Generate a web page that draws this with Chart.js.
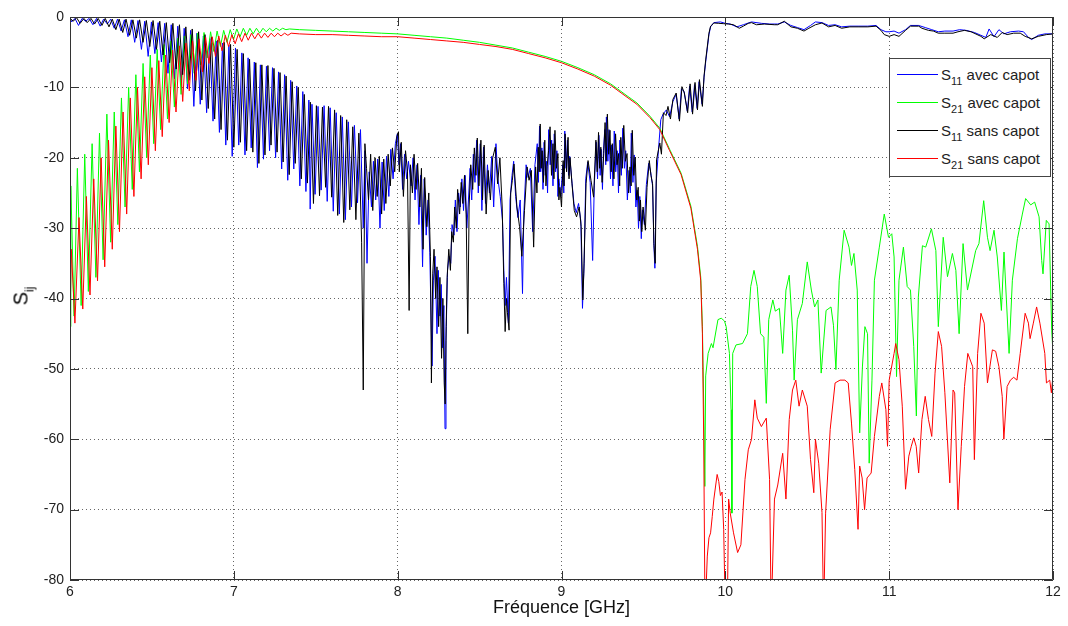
<!DOCTYPE html>
<html>
<head>
<meta charset="utf-8">
<script src="https://cdn.jsdelivr.net/npm/chart.js@4.4.0/dist/chart.umd.min.js"></script>
<style>
  body { margin: 0; background: #fff; }
  #wrap { position: relative; width: 1068px; height: 626px; font-family: "Liberation Sans", Arial, sans-serif; color: #222; }
  #ylabel { position: absolute; left: 21px; top: 296px; transform: translate(-50%, -50%) rotate(-90deg); font-size: 20px; color: #000; white-space: nowrap; }
  #ylabel sub { font-size: 12px; vertical-align: -6px; line-height: 0; }
  #legend { position: absolute; left: 889px; top: 58px; width: 160px; height: 117px; border: 1px solid #444; background: #fff; }
  .row { position: absolute; left: 0; height: 28px; display: flex; align-items: center; font-size: 15px; white-space: nowrap; }
  .row sub { font-size: 11px; vertical-align: -5px; line-height: 0; }
  .swatch { width: 41px; height: 1px; margin: 0 3px 0 7px; }
</style>
</head>
<body>
<div id="wrap">
  <canvas id="chart" width="1068" height="626"></canvas>
  <div id="ylabel">S<sub>ij</sub></div>
  <div id="legend"></div>
</div>
<script>
// axes
const freqTicks = [6, 7, 8, 9, 10, 11, 12];
const dbTicks = [0, -10, -20, -30, -40, -50, -60, -70, -80];

// series : [fréquence GHz, dB]
const s11Avec = [
  [6.000,-0.1],[6.010,-0.7],[6.030,-0.2],[6.052,-1.2],[6.074,-0.2],[6.095,-0.6],[6.117,-0.2],[6.140,-1.1],
  [6.162,-0.2],[6.184,-1.3],[6.205,-0.3],[6.228,-1.0],[6.248,-0.3],[6.270,-1.6],[6.290,-0.3],[6.312,-2.0],
  [6.332,-0.4],[6.354,-2.8],[6.374,-0.4],[6.395,-3.6],[6.415,-0.5],[6.436,-4.6],[6.456,-0.6],[6.477,-5.6],
  [6.497,-0.7],[6.518,-5.2],[6.538,-0.8],[6.558,-6.4],[6.578,-0.9],[6.598,-8.0],[6.618,-1.1],[6.638,-8.8],
  [6.658,-1.3],[6.678,-9.6],[6.697,-1.6],[6.717,-10.2],[6.736,-1.9],[6.756,-12.7],[6.775,-2.3],[6.795,-12.4],
  [6.814,-2.7],[6.834,-13.6],[6.853,-3.1],[6.873,-14.8],[6.892,-3.4],[6.912,-16.4],[6.931,-3.7],[6.951,-18.2],
  [6.970,-4.0],[6.990,-19.8],[7.010,-4.4],[7.030,-18.2],[7.049,-5.1],[7.068,-19.6],[7.087,-5.8],[7.106,-18.6],
  [7.125,-6.4],[7.144,-21.4],[7.162,-6.8],[7.181,-20.2],[7.199,-7.0],[7.218,-19.0],[7.236,-7.2],[7.255,-20.0],
  [7.273,-7.8],[7.292,-21.6],[7.310,-8.2],[7.329,-23.2],[7.347,-9.0],[7.366,-21.6],[7.384,-9.8],[7.403,-24.0],
  [7.421,-10.6],[7.440,-24.8],[7.458,-11.8],[7.466,-27.3],[7.477,-12.4],[7.496,-25.2],[7.514,-12.7],[7.533,-24.6],
  [7.551,-12.6],[7.570,-26.2],[7.588,-12.9],[7.607,-27.6],[7.625,-13.6],[7.644,-28.0],[7.662,-14.2],[7.681,-28.8],
  [7.699,-14.9],[7.718,-27.0],[7.736,-15.4],[7.755,-26.4],[7.773,-16.0],[7.790,-30.0],[7.800,-19.0],[7.813,-35.0],
  [7.826,-22.0],[7.840,-27.0],[7.852,-20.5],[7.866,-26.0],[7.878,-20.2],[7.892,-30.0],[7.905,-20.6],[7.918,-27.5],
  [7.932,-19.8],[7.946,-25.5],[7.958,-18.8],[7.972,-23.0],[7.986,-18.0],[7.998,-16.6],[8.008,-21.0],[8.018,-18.0],
  [8.030,-24.5],[8.042,-19.5],[8.055,-23.0],[8.066,-20.5],[8.082,-24.0],[8.094,-20.0],[8.106,-26.0],[8.118,-21.0],
  [8.130,-29.5],[8.140,-22.5],[8.152,-35.5],[8.162,-23.0],[8.174,-31.0],[8.186,-26.0],[8.196,-33.5],[8.210,-49.6],
  [8.218,-37.5],[8.228,-34.0],[8.240,-45.0],[8.248,-36.0],[8.258,-42.5],[8.266,-38.0],[8.274,-47.0],[8.282,-41.0],
  [8.289,-58.5],[8.295,-46.0],[8.304,-36.0],[8.314,-34.0],[8.324,-35.0],[8.332,-29.5],[8.344,-31.0],[8.352,-26.0],
  [8.362,-30.5],[8.372,-25.0],[8.382,-27.0],[8.392,-23.0],[8.402,-27.5],[8.412,-22.5],[8.422,-30.0],[8.432,-26.0],
  [8.442,-21.5],[8.452,-26.0],[8.462,-19.5],[8.472,-23.5],[8.482,-17.5],[8.492,-25.0],[8.504,-18.0],[8.514,-27.5],
  [8.524,-18.5],[8.536,-26.5],[8.548,-21.0],[8.560,-25.0],[8.574,-19.8],[8.586,-27.0],[8.600,-18.0],[8.612,-23.0],
  [8.626,-25.5],[8.640,-29.0],[8.648,-36.0],[8.656,-41.0],[8.664,-37.0],[8.676,-43.5],[8.686,-26.0],[8.698,-22.5],
  [8.708,-20.5],[8.720,-25.5],[8.734,-28.5],[8.748,-26.0],[8.762,-39.3],[8.770,-28.0],[8.784,-21.0],[8.796,-22.8],
  [8.810,-21.5],[8.824,-30.5],[8.838,-21.0],[8.852,-18.0],[8.859,-23.5],[8.866,-15.5],[8.873,-22.0],[8.880,-18.6],
  [8.887,-24.5],[8.894,-17.8],[8.901,-22.5],[8.908,-20.5],[8.915,-25.0],[8.922,-16.0],[8.931,-21.0],[8.940,-17.5],
  [8.948,-24.0],[8.956,-16.6],[8.964,-22.0],[8.972,-19.0],[8.978,-25.5],[8.984,-23.0],[8.996,-25.5],[9.008,-21.0],
  [9.014,-25.0],[9.020,-16.2],[9.028,-21.5],[9.036,-17.5],[9.043,-22.5],[9.050,-19.8],[9.062,-23.0],[9.076,-26.5],
  [9.090,-27.8],[9.104,-26.5],[9.118,-29.0],[9.128,-41.4],[9.138,-35.0],[9.148,-23.0],[9.160,-20.6],[9.175,-23.5],
  [9.190,-34.6],[9.200,-24.0],[9.212,-17.8],[9.220,-23.0],[9.228,-16.8],[9.236,-22.5],[9.242,-18.8],[9.250,-24.5],
  [9.256,-19.0],[9.264,-16.0],[9.270,-21.0],[9.274,-14.2],[9.283,-20.5],[9.290,-16.0],[9.299,-23.0],[9.306,-18.2],
  [9.314,-24.0],[9.322,-16.2],[9.331,-22.0],[9.340,-19.0],[9.348,-25.0],[9.356,-17.5],[9.365,-22.5],[9.374,-15.8],
  [9.384,-21.5],[9.392,-19.0],[9.402,-26.0],[9.412,-21.8],[9.420,-25.0],[9.426,-16.5],[9.436,-23.5],[9.444,-19.6],
  [9.454,-27.0],[9.462,-24.6],[9.470,-30.0],[9.478,-25.5],[9.487,-31.5],[9.494,-27.4],[9.506,-29.5],[9.518,-23.8],
  [9.532,-20.8],[9.544,-22.0],[9.556,-24.0],[9.564,-32.5],[9.570,-35.7],[9.578,-23.6],[9.592,-18.8],[9.606,-14.6],
  [9.620,-13.8],[9.640,-13.2],[9.660,-14.2],[9.680,-12.0],[9.700,-11.0],[9.718,-14.5],[9.732,-10.2],[9.748,-10.6],
  [9.768,-13.4],[9.782,-9.8],[9.798,-13.5],[9.812,-9.6],[9.828,-13.0],[9.840,-9.2],[9.858,-12.4],[9.870,-8.6],
  [9.880,-6.4],[9.900,-2.5],[9.910,-1.4],[9.930,-0.8],[9.970,-0.7],[10.000,-0.9],[10.030,-1.0],[10.070,-1.4],
  [10.110,-1.1],[10.160,-0.7],[10.220,-0.9],[10.270,-1.0],[10.320,-1.0],[10.360,-0.7],[10.400,-1.2],[10.440,-1.5],
  [10.480,-1.8],[10.520,-1.2],[10.550,-0.7],[10.590,-0.8],[10.630,-1.2],[10.670,-1.1],[10.710,-1.4],[10.760,-1.3],
  [10.810,-1.3],[10.870,-1.3],[10.920,-1.2],[10.950,-1.8],[10.980,-2.1],[11.000,-2.1],[11.030,-2.0],[11.060,-2.3],
  [11.100,-1.8],[11.130,-1.2],[11.180,-1.2],[11.220,-1.5],[11.260,-1.8],[11.300,-2.1],[11.340,-2.0],[11.390,-2.0],
  [11.430,-1.8],[11.470,-1.9],[11.520,-2.2],[11.560,-2.6],[11.590,-2.9],[11.610,-1.7],[11.640,-2.8],[11.670,-1.8],
  [11.700,-2.4],[11.740,-2.1],[11.790,-2.0],[11.820,-2.1],[11.850,-2.9],[11.870,-3.2],[11.910,-2.6],[11.950,-2.4],
  [12.000,-2.4]
];

const s21Avec = [
  [6.000,-44.0],[6.005,-24.0],[6.025,-42.5],[6.045,-21.5],[6.068,-41.0],[6.090,-19.5],[6.112,-39.0],[6.135,-18.0],
  [6.158,-37.0],[6.180,-16.5],[6.202,-34.5],[6.225,-13.8],[6.248,-32.0],[6.270,-13.5],[6.292,-29.5],[6.314,-11.5],
  [6.336,-27.0],[6.358,-10.0],[6.380,-24.5],[6.402,-8.2],[6.424,-22.0],[6.446,-6.6],[6.468,-20.0],[6.490,-5.4],
  [6.511,-18.0],[6.532,-4.6],[6.553,-16.0],[6.574,-3.9],[6.595,-14.5],[6.616,-3.4],[6.637,-12.8],[6.658,-3.0],
  [6.678,-11.0],[6.698,-2.7],[6.718,-9.5],[6.738,-2.5],[6.758,-8.0],[6.778,-2.3],[6.798,-6.8],[6.818,-2.2],
  [6.838,-5.8],[6.858,-2.1],[6.878,-4.9],[6.898,-2.0],[6.918,-4.2],[6.938,-1.9],[6.958,-3.6],[6.978,-1.8],
  [6.998,-3.2],[7.018,-1.7],[7.038,-2.8],[7.058,-1.6],[7.078,-2.6],[7.098,-1.6],[7.118,-2.4],[7.138,-1.6],
  [7.158,-2.3],[7.178,-1.6],[7.198,-2.1],[7.218,-1.6],[7.238,-2.0],[7.258,-1.6],[7.278,-1.9],[7.298,-1.6],
  [7.318,-1.8],[7.340,-1.7],[7.400,-1.8],[7.500,-1.9],[7.600,-2.0],[7.700,-2.1],[7.800,-2.2],[7.900,-2.3],
  [8.000,-2.4],[8.100,-2.6],[8.200,-2.8],[8.300,-3.0],[8.400,-3.3],[8.500,-3.6],[8.600,-4.0],[8.700,-4.4],
  [8.800,-5.0],[8.900,-5.6],[9.000,-6.3],[9.100,-7.2],[9.200,-8.2],[9.300,-9.5],[9.400,-11.2],[9.460,-12.2],
  [9.540,-14.1],[9.600,-15.8],[9.660,-18.8],[9.730,-22.2],[9.790,-26.9],[9.830,-32.6],[9.850,-37.0],[9.860,-44.0],
  [9.868,-55.0],[9.875,-66.7],[9.880,-51.0],[9.895,-47.8],[9.915,-46.4],[9.925,-47.0],[9.955,-43.0],[9.975,-42.8],
  [9.995,-43.2],[10.005,-44.0],[10.025,-47.8],[10.035,-55.8],[10.040,-70.5],[10.045,-47.8],[10.065,-46.6],[10.105,-46.4],
  [10.135,-45.0],[10.155,-38.3],[10.175,-36.0],[10.195,-38.3],[10.215,-45.0],[10.235,-45.5],[10.250,-54.9],[10.265,-43.0],
  [10.290,-40.2],[10.305,-41.8],[10.330,-41.4],[10.350,-47.8],[10.370,-38.8],[10.390,-36.7],[10.410,-44.5],[10.420,-51.6],
  [10.440,-43.0],[10.470,-40.7],[10.500,-34.8],[10.525,-38.8],[10.545,-41.2],[10.565,-40.2],[10.585,-50.6],[10.615,-41.7],
  [10.645,-41.2],[10.660,-43.8],[10.675,-50.1],[10.695,-37.4],[10.725,-30.3],[10.755,-32.7],[10.770,-35.3],[10.785,-33.6],
  [10.805,-38.8],[10.820,-59.1],[10.837,-49.6],[10.852,-44.0],[10.868,-45.0],[10.878,-63.4],[10.895,-51.6],[10.910,-37.4],
  [10.940,-32.7],[10.970,-28.0],[10.996,-31.3],[11.016,-30.8],[11.030,-34.1],[11.045,-51.1],[11.060,-37.4],[11.087,-32.7],
  [11.110,-38.3],[11.130,-38.8],[11.150,-46.8],[11.166,-56.7],[11.178,-39.8],[11.203,-32.5],[11.223,-32.7],[11.258,-30.1],
  [11.285,-33.2],[11.300,-44.0],[11.330,-31.3],[11.356,-36.9],[11.386,-33.6],[11.407,-36.0],[11.427,-45.0],[11.451,-32.2],
  [11.478,-38.8],[11.528,-33.2],[11.548,-32.2],[11.577,-26.1],[11.600,-31.3],[11.616,-33.2],[11.640,-30.3],[11.660,-34.1],
  [11.685,-41.7],[11.701,-33.4],[11.732,-47.8],[11.752,-37.4],[11.783,-31.5],[11.813,-28.0],[11.833,-25.8],[11.864,-26.7],
  [11.888,-26.3],[11.915,-28.4],[11.931,-34.6],[11.939,-36.5],[11.959,-28.9],[11.976,-29.4],[11.992,-44.5],[12.000,-47.8]
];

const s11Sans = [
  [6.000,-0.2],[6.020,-0.6],[6.040,-0.1],[6.062,-0.9],[6.085,-0.2],[6.105,-0.8],[6.128,-0.2],[6.150,-1.0],
  [6.172,-0.2],[6.195,-1.2],[6.215,-0.2],[6.238,-1.4],[6.258,-0.3],[6.280,-1.8],[6.300,-0.3],[6.322,-2.2],
  [6.342,-0.3],[6.364,-2.6],[6.384,-0.4],[6.405,-3.0],[6.425,-0.4],[6.446,-3.6],[6.466,-0.5],[6.487,-4.2],
  [6.507,-0.5],[6.528,-4.6],[6.548,-0.6],[6.568,-5.4],[6.588,-0.8],[6.608,-6.5],[6.628,-0.9],[6.648,-7.4],
  [6.668,-1.1],[6.688,-8.2],[6.707,-1.4],[6.727,-9.0],[6.746,-1.7],[6.766,-10.5],[6.785,-2.1],[6.805,-11.8],
  [6.824,-2.5],[6.844,-13.0],[6.863,-2.9],[6.883,-14.5],[6.902,-3.3],[6.922,-16.0],[6.941,-3.6],[6.961,-17.5],
  [6.980,-3.9],[7.000,-18.5],[7.020,-4.6],[7.040,-17.8],[7.058,-5.2],[7.078,-19.0],[7.096,-6.0],[7.116,-19.2],
  [7.134,-6.5],[7.153,-20.8],[7.171,-6.8],[7.190,-19.6],[7.208,-6.9],[7.227,-18.2],[7.245,-7.3],[7.264,-19.2],
  [7.282,-7.9],[7.301,-20.6],[7.319,-8.4],[7.338,-22.4],[7.356,-9.2],[7.375,-20.8],[7.393,-10.0],[7.412,-23.0],
  [7.430,-11.0],[7.449,-23.6],[7.467,-12.1],[7.486,-26.5],[7.504,-12.6],[7.523,-25.4],[7.541,-12.8],[7.560,-24.2],
  [7.578,-12.7],[7.597,-25.6],[7.615,-13.2],[7.634,-28.2],[7.652,-14.0],[7.671,-29.2],[7.689,-14.6],[7.708,-27.4],
  [7.726,-15.6],[7.745,-28.8],[7.763,-16.5],[7.780,-32.0],[7.790,-53.0],[7.800,-18.0],[7.810,-21.5],[7.822,-26.0],
  [7.835,-19.5],[7.848,-27.5],[7.862,-20.0],[7.875,-25.5],[7.888,-19.8],[7.902,-28.0],[7.915,-20.2],[7.928,-26.5],
  [7.942,-19.5],[7.955,-24.0],[7.968,-18.6],[7.982,-22.0],[7.995,-17.0],[8.005,-16.3],[8.010,-22.0],[8.022,-17.8],
  [8.035,-25.5],[8.048,-19.0],[8.060,-22.0],[8.070,-41.7],[8.078,-21.0],[8.090,-25.0],[8.100,-19.5],[8.112,-24.5],
  [8.122,-20.8],[8.135,-27.0],[8.145,-21.5],[8.155,-33.0],[8.165,-22.8],[8.178,-29.8],[8.190,-25.0],[8.200,-34.0],
  [8.206,-52.0],[8.214,-36.5],[8.222,-33.0],[8.232,-40.0],[8.240,-35.5],[8.250,-44.0],[8.258,-37.0],[8.268,-48.5],
  [8.276,-40.0],[8.284,-52.0],[8.290,-55.0],[8.296,-44.0],[8.302,-37.0],[8.312,-33.0],[8.322,-36.0],[8.330,-30.5],
  [8.340,-32.0],[8.348,-27.0],[8.358,-30.0],[8.366,-24.5],[8.378,-28.0],[8.388,-23.5],[8.398,-26.5],[8.408,-22.5],
  [8.418,-28.0],[8.428,-45.0],[8.436,-27.0],[8.446,-21.0],[8.458,-24.5],[8.468,-18.6],[8.478,-22.5],[8.486,-17.2],
  [8.496,-24.0],[8.508,-17.5],[8.518,-26.0],[8.528,-18.2],[8.540,-28.0],[8.552,-21.8],[8.566,-26.0],[8.580,-20.0],
  [8.596,-18.5],[8.610,-23.7],[8.624,-20.0],[8.638,-27.0],[8.648,-37.9],[8.656,-44.7],[8.664,-40.0],[8.670,-42.0],
  [8.680,-44.5],[8.690,-25.0],[8.700,-23.2],[8.710,-20.9],[8.728,-27.0],[8.744,-29.8],[8.758,-34.0],[8.774,-27.5],
  [8.790,-21.3],[8.802,-23.2],[8.816,-21.8],[8.830,-32.7],[8.842,-21.3],[8.850,-25.0],[8.858,-18.5],[8.864,-22.0],
  [8.870,-15.2],[8.876,-21.5],[8.882,-19.0],[8.890,-23.5],[8.898,-17.5],[8.905,-24.0],[8.912,-21.3],[8.921,-19.0],
  [8.930,-15.6],[8.939,-22.5],[8.948,-18.0],[8.954,-23.0],[8.960,-16.1],[8.969,-21.5],[8.978,-19.4],[8.984,-26.0],
  [8.990,-24.2],[9.000,-27.0],[9.010,-20.4],[9.016,-24.0],[9.022,-16.6],[9.031,-22.0],[9.040,-17.1],[9.046,-23.0],
  [9.052,-20.0],[9.064,-23.7],[9.078,-27.5],[9.092,-28.4],[9.108,-27.0],[9.120,-29.8],[9.130,-40.2],[9.136,-36.5],
  [9.150,-23.7],[9.162,-20.4],[9.180,-23.2],[9.196,-25.6],[9.210,-17.5],[9.218,-22.0],[9.226,-16.4],[9.233,-21.5],
  [9.240,-18.5],[9.248,-23.5],[9.258,-19.4],[9.266,-15.0],[9.273,-20.5],[9.280,-13.8],[9.288,-19.5],[9.296,-16.1],
  [9.303,-22.0],[9.310,-18.0],[9.320,-23.0],[9.330,-16.6],[9.339,-21.0],[9.348,-19.4],[9.355,-24.0],[9.362,-17.1],
  [9.371,-21.5],[9.380,-15.4],[9.390,-20.5],[9.400,-19.4],[9.409,-25.0],[9.418,-21.3],[9.425,-24.0],[9.432,-16.1],
  [9.441,-22.5],[9.450,-19.9],[9.459,-26.0],[9.468,-24.2],[9.475,-29.0],[9.482,-26.0],[9.490,-30.5],[9.498,-27.0],
  [9.512,-30.3],[9.522,-24.2],[9.536,-20.4],[9.546,-22.5],[9.556,-23.7],[9.564,-32.2],[9.572,-35.0],[9.580,-20.3],
  [9.600,-17.9],[9.610,-19.5],[9.622,-13.6],[9.638,-14.0],[9.650,-12.7],[9.665,-14.5],[9.680,-11.7],[9.700,-10.8],
  [9.720,-14.8],[9.735,-9.9],[9.750,-10.8],[9.770,-13.6],[9.785,-9.5],[9.800,-13.8],[9.815,-9.3],[9.830,-13.2],
  [9.842,-8.9],[9.860,-12.7],[9.870,-8.4],[9.880,-6.1],[9.900,-2.3],[9.910,-1.3],[9.930,-0.85],[9.960,-0.9],
  [9.990,-0.95],[10.020,-1.0],[10.050,-1.1],[10.085,-1.6],[10.110,-1.3],[10.140,-0.9],[10.160,-0.8],[10.190,-1.1],
  [10.240,-1.0],[10.300,-1.1],[10.320,-1.1],[10.360,-0.6],[10.400,-1.4],[10.440,-1.6],[10.480,-2.0],[10.510,-1.6],
  [10.550,-1.1],[10.590,-0.85],[10.630,-1.4],[10.670,-1.2],[10.710,-1.6],[10.760,-1.4],[10.810,-1.4],[10.870,-1.4],
  [10.920,-1.3],[10.950,-1.9],[10.970,-2.5],[11.000,-2.75],[11.030,-2.5],[11.060,-2.75],[11.100,-1.9],[11.130,-1.3],
  [11.180,-1.3],[11.200,-1.6],[11.240,-1.9],[11.270,-2.0],[11.300,-2.3],[11.340,-2.3],[11.390,-2.3],[11.420,-2.1],
  [11.460,-1.9],[11.500,-2.1],[11.560,-2.75],[11.580,-3.1],[11.620,-2.5],[11.660,-2.9],[11.690,-2.2],[11.720,-2.5],
  [11.760,-2.3],[11.800,-2.3],[11.830,-2.75],[11.870,-3.1],[11.910,-2.75],[11.960,-2.5],[12.000,-2.4]
];

const s21Sans = [
  [6.000,-43.0],[6.008,-33.0],[6.030,-43.5],[6.055,-28.5],[6.078,-41.5],[6.100,-25.5],[6.122,-39.5],[6.145,-23.0],
  [6.168,-37.5],[6.190,-20.0],[6.212,-35.5],[6.235,-17.5],[6.258,-33.0],[6.280,-15.5],[6.302,-30.5],[6.324,-13.5],
  [6.346,-28.0],[6.368,-11.5],[6.390,-25.5],[6.412,-10.0],[6.434,-23.0],[6.456,-8.5],[6.478,-21.0],[6.500,-7.2],
  [6.521,-19.0],[6.542,-6.2],[6.563,-17.0],[6.584,-5.4],[6.605,-15.0],[6.626,-4.7],[6.647,-13.5],[6.668,-4.1],
  [6.688,-12.0],[6.708,-3.7],[6.728,-10.5],[6.748,-3.4],[6.768,-9.0],[6.788,-3.1],[6.808,-7.8],[6.828,-2.9],
  [6.848,-6.6],[6.868,-2.8],[6.888,-5.6],[6.908,-2.7],[6.928,-4.8],[6.948,-2.6],[6.968,-4.2],[6.988,-2.5],
  [7.008,-3.8],[7.028,-2.4],[7.048,-3.5],[7.068,-2.3],[7.088,-3.3],[7.108,-2.3],[7.128,-3.1],[7.148,-2.3],
  [7.168,-3.0],[7.188,-2.3],[7.208,-2.9],[7.228,-2.3],[7.248,-2.8],[7.268,-2.3],[7.288,-2.7],[7.310,-2.3],
  [7.330,-2.6],[7.350,-2.3],[7.400,-2.4],[7.500,-2.5],[7.600,-2.5],[7.700,-2.6],[7.800,-2.7],[7.900,-2.8],
  [8.000,-2.8],[8.100,-3.0],[8.200,-3.2],[8.300,-3.4],[8.400,-3.6],[8.500,-3.9],[8.600,-4.2],[8.700,-4.6],
  [8.800,-5.2],[8.900,-5.8],[9.000,-6.5],[9.100,-7.4],[9.200,-8.4],[9.300,-9.7],[9.400,-11.4],[9.460,-12.4],
  [9.540,-14.3],[9.600,-16.0],[9.660,-19.0],[9.730,-22.4],[9.790,-27.2],[9.830,-33.0],[9.850,-37.5],[9.860,-45.0],
  [9.868,-60.0],[9.876,-85.0],[9.880,-85.0],[9.890,-76.6],[9.900,-74.0],[9.910,-73.3],[9.920,-71.0],[9.930,-68.5],
  [9.950,-65.0],[9.960,-66.0],[9.970,-68.0],[9.980,-67.5],[9.990,-72.8],[10.000,-85.0],[10.012,-85.0],[10.020,-68.5],
  [10.030,-70.5],[10.050,-73.3],[10.075,-76.1],[10.095,-75.0],[10.120,-65.7],[10.140,-61.5],[10.160,-60.0],[10.180,-54.4],
  [10.195,-57.0],[10.220,-58.2],[10.250,-57.0],[10.270,-65.7],[10.280,-85.0],[10.300,-68.5],[10.320,-66.5],[10.350,-62.0],
  [10.370,-68.5],[10.390,-57.2],[10.410,-53.0],[10.430,-51.6],[10.450,-55.3],[10.470,-53.0],[10.500,-55.3],[10.520,-62.9],
  [10.540,-67.6],[10.550,-60.0],[10.570,-63.4],[10.590,-70.4],[10.600,-85.0],[10.612,-70.5],[10.640,-58.6],[10.670,-52.0],
  [10.700,-51.6],[10.730,-51.6],[10.750,-52.0],[10.770,-57.7],[10.790,-64.3],[10.810,-72.8],[10.820,-63.8],[10.835,-65.5],
  [10.850,-70.0],[10.865,-65.5],[10.890,-64.8],[10.910,-59.6],[10.940,-53.9],[10.955,-52.0],[10.980,-55.8],[10.990,-61.0],
  [11.000,-51.6],[11.030,-47.8],[11.040,-46.4],[11.060,-48.7],[11.080,-55.3],[11.100,-67.1],[11.120,-62.4],[11.135,-61.0],
  [11.150,-59.8],[11.165,-61.0],[11.180,-64.8],[11.200,-57.2],[11.220,-53.9],[11.240,-57.2],[11.260,-59.6],[11.280,-50.6],
  [11.300,-44.7],[11.320,-46.8],[11.340,-53.4],[11.370,-66.2],[11.390,-53.0],[11.400,-53.4],[11.420,-70.0],[11.440,-61.0],
  [11.460,-52.5],[11.480,-47.8],[11.510,-49.7],[11.520,-62.9],[11.540,-47.8],[11.560,-42.1],[11.580,-43.5],[11.600,-52.0],
  [11.630,-47.3],[11.650,-47.5],[11.670,-49.7],[11.690,-53.9],[11.700,-60.0],[11.720,-52.5],[11.740,-51.6],[11.760,-51.2],
  [11.780,-51.6],[11.800,-47.8],[11.830,-42.1],[11.850,-43.5],[11.860,-45.7],[11.880,-43.5],[11.900,-41.2],[11.920,-43.5],
  [11.950,-47.8],[11.960,-52.0],[11.980,-51.6],[11.990,-53.4],[12.000,-51.0]
];

const legendItems = [
  { sub: '11', text: 'avec capot', color: '#0000ff' },
  { sub: '21', text: 'avec capot', color: '#00ff00' },
  { sub: '11', text: 'sans capot', color: '#000000' },
  { sub: '21', text: 'sans capot', color: '#ff0000' }
];

const family = '"Liberation Sans", Arial, sans-serif';

// légende HTML (indices en <sub>)
const legendBox = document.getElementById('legend');
legendItems.forEach((it, i) => {
  const row = document.createElement('div');
  row.className = 'row';
  row.style.top = (1 + i * 28) + 'px';
  row.innerHTML = `<span class="swatch" style="background:${it.color}"></span><span>S<sub>${it.sub}</sub> ${it.text}</span>`;
  legendBox.appendChild(row);
});

function serie(points, color, order) {
  return {
    data: points.map(([f, db]) => ({ x: f, y: db })),
    borderColor: color,
    borderWidth: 1,
    pointRadius: 0,
    showLine: true,
    fill: false,
    tension: 0,
    order
  };
}

// cadre + graduations vers l'intérieur (style matlab)
const frame = {
  id: 'frame',
  afterDatasetsDraw(chart) {
    const { ctx, chartArea: a, scales: { x, y } } = chart;
    ctx.save();
    ctx.strokeStyle = '#333';
    ctx.lineWidth = 1;
    ctx.beginPath();
    ctx.rect(Math.round(a.left) + 0.5, Math.round(a.top) + 0.5, Math.round(a.right - a.left) - 1, Math.round(a.bottom - a.top) - 1);
    freqTicks.forEach(v => {
      const px = Math.round(x.getPixelForValue(v)) + 0.5;
      ctx.moveTo(px, a.bottom); ctx.lineTo(px, a.bottom - 9);
      ctx.moveTo(px, a.top); ctx.lineTo(px, a.top + 9);
    });
    dbTicks.forEach(v => {
      const py = Math.round(y.getPixelForValue(v)) + 0.5;
      ctx.moveTo(a.left, py); ctx.lineTo(a.left + 9, py);
      ctx.moveTo(a.right, py); ctx.lineTo(a.right - 9, py);
    });
    ctx.stroke();
    ctx.restore();
  }
};

const gridOpts = { color: 'rgba(0,0,0,0.6)', drawTicks: false };
const borderOpts = { display: false, dash: [1, 3] };

new Chart(document.getElementById('chart'), {
  type: 'scatter',
  data: {
    datasets: [
      serie(s11Avec, '#0000ff', 4),
      serie(s21Avec, '#00ff00', 3),
      serie(s11Sans, '#000000', 2),
      serie(s21Sans, '#ff0000', 1)
    ]
  },
  options: {
    responsive: false,
    animation: false,
    events: [],
    layout: { padding: { top: 17, right: 15, left: 0, bottom: 0 } },
    plugins: { legend: { display: false }, tooltip: { enabled: false } },
    scales: {
      x: {
        type: 'linear', min: 6, max: 12,
        afterBuildTicks: s => { s.ticks = freqTicks.map(v => ({ value: v })); },
        afterFit: s => { s.height = 46; },
        grid: gridOpts,
        border: borderOpts,
        ticks: { padding: 4, color: '#222', font: { size: 14, family }, maxRotation: 0, autoSkip: false },
        title: { display: true, text: 'Fréquence [GHz]', color: '#111', font: { size: 18, family }, padding: { top: 0, bottom: 7 } }
      },
      y: {
        type: 'linear', min: -80, max: 0,
        afterBuildTicks: s => { s.ticks = dbTicks.map(v => ({ value: v })); },
        afterFit: s => { s.width = 70; },
        grid: gridOpts,
        border: borderOpts,
        ticks: { padding: 6, color: '#222', font: { size: 14, family }, autoSkip: false }
      }
    }
  },
  plugins: [frame]
});
</script>
</body>
</html>
